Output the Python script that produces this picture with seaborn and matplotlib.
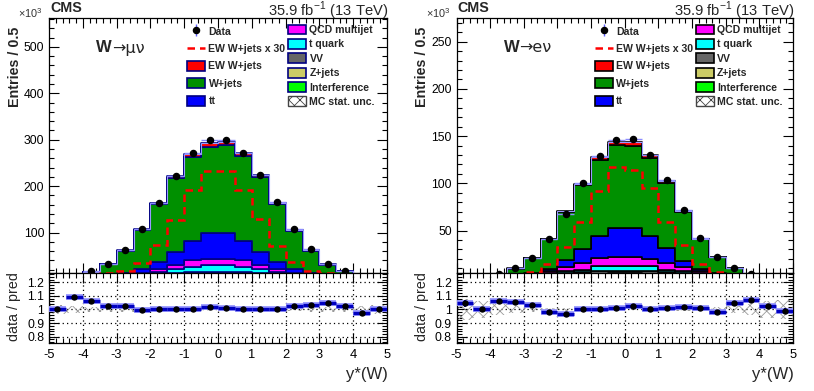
import numpy as np
import pandas as pd
import matplotlib.pyplot as plt
import seaborn as sns
from matplotlib.patches import Patch
from matplotlib.lines import Line2D
from matplotlib.ticker import MultipleLocator, FixedLocator

sns.set_style("ticks")
plt.rcParams['font.family'] = ['Liberation Sans', 'DejaVu Sans']
plt.rcParams['mathtext.fontset'] = 'custom'
plt.rcParams['mathtext.rm'] = 'Liberation Sans'
plt.rcParams['mathtext.bf'] = 'Liberation Sans:bold'
plt.rcParams['hatch.linewidth'] = 0.6

# bins of y*(W), width 0.5
edges = np.arange(-5, 5.01, 0.5)
centers = (edges[:-1] + edges[1:]) / 2

procs = ["EW W+jets", "W+jets", "tt", "QCD multijet", "t quark", "VV", "Z+jets", "Interference"]
colors = {"EW W+jets": "#ff0000", "W+jets": "#009000", "tt": "#0000ff",
          "QCD multijet": "#ff00ff", "t quark": "#00ffff", "VV": "#666666",
          "Z+jets": "#cccc66", "Interference": "#00ff00"}

# ---- W -> mu nu (entries x 10^3)
mu_data = [1.2, 4.5, 17, 33, 63, 107, 164.5, 222, 270.6, 298.6, 298.6, 271, 223, 165, 108, 64, 33, 17, 4.5, 1.2]
mu_ew = [0.03, 0.1, 0.2, 0.43, 0.57, 1.17, 2.47, 4.22, 6.37, 7.75, 7.75, 6.42, 4.29, 2.35, 1.23, 0.57, 0.43, 0.2, 0.1, 0.03]
mu_wjets = [0.85, 3.18, 13.5, 26.7, 48.6, 84.8, 124.2, 158.7, 181.9, 187.0, 188.9, 183.6, 160.7, 125.2, 82.7, 48.9, 25.9, 14.1, 3.65, 0.85]
mu_tt = [0.02, 0.05, 0.2, 0.6, 4, 8, 16.5, 27, 40.5, 54, 55, 40.5, 27, 16.5, 8, 4, 0.6, 0.2, 0.05, 0.02]
mu_qcd = [0.05, 0.1, 0.3, 0.7, 1.5, 3, 5, 10, 14.5, 14, 14, 14.5, 10, 5, 3, 1.5, 0.7, 0.3, 0.1, 0.05]
mu_tq = [0.05, 0.1, 0.3, 0.8, 1.8, 3.5, 6, 9, 12, 15, 15, 12, 9, 6, 3.5, 1.8, 0.8, 0.3, 0.1, 0.05]
mu_vv = [0.07, 0.2, 0.5, 1.0, 1.8, 2.5, 3.3, 4.2, 4.9, 5.2, 5.2, 4.9, 4.2, 3.3, 2.5, 1.8, 1.0, 0.5, 0.2, 0.07]
mu_zjets = [0.1, 0.3, 0.8, 1.5, 2.5, 3.5, 4.8, 6.0, 7.0, 7.5, 7.5, 7.0, 6.0, 4.8, 3.5, 2.5, 1.5, 0.8, 0.3, 0.1]
mu_interf = [0.03, 0.1, 0.2, 0.5, 0.7, 1.0, 1.4, 1.8, 2.1, 2.3, 2.3, 2.1, 1.8, 1.4, 1.0, 0.7, 0.5, 0.2, 0.1, 0.03]
mu_ratio = [1.00, 1.09, 1.06, 1.025, 1.025, 0.995, 1.005, 1.005, 1.005, 1.02, 1.01, 1.0, 1.0, 1.003, 1.025, 1.035, 1.05, 1.025, 0.975, 1.0]
mu_ratio_err = [0.006, 0.004, 0.003, 0.002, 0.002, 0.002, 0.002, 0.002, 0.002, 0.002, 0.002, 0.002, 0.002, 0.002, 0.002, 0.002, 0.002, 0.003, 0.004, 0.006]
mu_mc_unc = [0.03, 0.025, 0.02, 0.02, 0.015, 0.012, 0.01, 0.008, 0.007, 0.007, 0.007, 0.007, 0.008, 0.01, 0.012, 0.015, 0.02, 0.02, 0.025, 0.03]

# ---- W -> e nu (entries x 10^3)
e_data = [0.4, 1.2, 3.5, 10.4, 21.4, 40.5, 67.7, 100.2, 128.8, 145.4, 147.2, 130.2, 103, 71.9, 41.9, 21.7, 10.4, 3.6, 1.2, 0.4]
e_ew = [0.02, 0.03, 0.07, 0.13, 0.2, 0.49, 1.08, 1.97, 3.06, 3.9, 3.8, 3.15, 1.97, 1.15, 0.49, 0.2, 0.13, 0.07, 0.03, 0.02]
e_wjets = [0.19, 0.72, 2.08, 7.23, 15.6, 31.3, 50.5, 67.1, 80.4, 87.5, 87.0, 82.3, 68.6, 51.3, 31.6, 16.9, 7.3, 2.14, 0.69, 0.21]
e_tt = [0.03, 0.05, 0.1, 0.4, 1.0, 2.7, 7.5, 14.9, 23.7, 30.8, 30.8, 24.4, 15.9, 7.1, 2.7, 1.0, 0.4, 0.1, 0.05, 0.03]
e_qcd = [0.02, 0.05, 0.1, 0.3, 0.8, 2.0, 4.2, 7.0, 9.0, 9.1, 9.1, 8.3, 7.0, 4.2, 2.0, 0.8, 0.3, 0.1, 0.05, 0.02]
e_tq = [0.02, 0.05, 0.15, 0.3, 0.6, 1.2, 2.1, 2.9, 5.4, 5.9, 5.9, 5.4, 2.9, 2.1, 1.2, 0.6, 0.3, 0.15, 0.05, 0.02]
e_vv = [0.035, 0.1, 0.28, 0.5, 0.9, 1.2, 1.7, 2.0, 2.3, 2.45, 2.45, 2.3, 2.0, 1.7, 1.2, 0.9, 0.5, 0.28, 0.1, 0.035]
e_zjets = [0.05, 0.15, 0.4, 0.75, 1.25, 1.75, 2.4, 2.9, 3.3, 3.5, 3.5, 3.3, 2.9, 2.4, 1.75, 1.25, 0.75, 0.4, 0.15, 0.05]
e_interf = [0.015, 0.05, 0.12, 0.25, 0.35, 0.55, 0.7, 0.9, 1.0, 1.05, 1.05, 1.0, 0.9, 0.7, 0.55, 0.35, 0.25, 0.12, 0.05, 0.015]
e_ratio = [1.045, 1.0, 1.062, 1.055, 1.032, 0.983, 0.965, 1.005, 1.005, 1.008, 1.025, 1.0, 1.008, 1.017, 1.01, 0.985, 1.045, 1.07, 1.027, 0.99]
e_ratio_err = [0.025, 0.01, 0.006, 0.004, 0.003, 0.002, 0.002, 0.002, 0.002, 0.002, 0.002, 0.002, 0.002, 0.002, 0.002, 0.003, 0.004, 0.006, 0.012, 0.022]
e_mc_unc = [0.08, 0.06, 0.04, 0.025, 0.015, 0.01, 0.008, 0.007, 0.006, 0.006, 0.006, 0.006, 0.007, 0.008, 0.01, 0.015, 0.025, 0.04, 0.06, 0.07]

W, H = 814, 391
fig = plt.figure(figsize=(W / 100, H / 100), dpi=100)


def px(x, y):
    return x / W, 1 - y / H


def box(x0, y0, x1, y1):
    return [x0 / W, 1 - y1 / H, (x1 - x0) / W, (y1 - y0) / H]


def draw_channel(x0, x1, comps, data, ratio, ratio_err, mc_unc, ew, ylim, ymaj, ymin_step, chan, edge):
    ax = fig.add_axes(box(x0, 18, x1, 273))
    axr = fig.add_axes(box(x0, 273, x1, 343), sharex=ax)

    rows = []
    for name, vals in zip(procs, comps):
        rows.append(pd.DataFrame({"y": centers, "w": vals, "proc": name}))
    df = pd.concat(rows, ignore_index=True)
    sns.histplot(data=df, x="y", weights="w", hue="proc", hue_order=procs, palette=colors,
                 multiple="stack", bins=list(edges), element="step", alpha=1, edgecolor=edge,
                 linewidth=1.2, legend=False, ax=ax)
    total = np.sum(comps, axis=0)
    ax.stairs(total, edges, color="#9a9aff", lw=0.8, zorder=3)
    ax.stairs(np.array(ew) * 30, edges, color="#ff0000", lw=1.8, ls=(0, (3, 2)), zorder=4)
    ax.errorbar(centers, data, xerr=0.25, fmt="o", color="black", ms=4.4,
                ecolor="#8c8cff", elinewidth=1, capsize=0, zorder=5)

    ax.set_xlim(-5, 5)
    ax.set_ylim(*ylim)
    ax.set_xlabel("")
    ax.set_ylabel("")
    ax.yaxis.set_major_locator(MultipleLocator(ymaj))
    ax.yaxis.set_minor_locator(MultipleLocator(ymin_step))
    ax.xaxis.set_major_locator(MultipleLocator(1))
    ax.xaxis.set_minor_locator(MultipleLocator(0.2))
    ax.tick_params(axis="x", labelbottom=False)

    # ratio panel
    axr.bar(centers, 2 * np.array(mc_unc), bottom=1 - np.array(mc_unc), width=0.5,
            fill=False, hatch="xxx", edgecolor="#999999", lw=0, zorder=2)
    axr.hlines(ratio, edges[:-1], edges[1:], colors="#9a9aff", lw=4.2, zorder=3)
    axr.hlines(ratio, edges[:-1], edges[1:], colors="#0000c0", lw=2.4, zorder=4)
    axr.errorbar(centers, ratio, yerr=ratio_err, fmt="o", color="black", ms=3.6,
                 ecolor="#0000c0", elinewidth=1.5, capsize=0, zorder=5)
    axr.set_ylim(0.754, 1.268)
    axr.yaxis.set_major_locator(FixedLocator([0.8, 0.9, 1.0, 1.1, 1.2]))
    axr.yaxis.set_minor_locator(MultipleLocator(0.02))
    axr.set_yticklabels(["0.8", "0.9", "1", "1.1", "1.2"])
    axr.set_xticks(range(-5, 6))
    axr.set_xticklabels([str(v) for v in range(-5, 6)])
    axr.grid(True, which="major", color="black", ls=(0, (1, 2.5)), lw=0.9)

    for a in (ax, axr):
        a.tick_params(which="both", direction="in", top=True, right=True, width=0.8,
                      labelsize=8.8, pad=3.5, colors="black")
        a.tick_params(which="major", length=7)
        a.tick_params(which="minor", length=3.5)
        for s in a.spines.values():
            s.set_linewidth(0.9)
            s.set_color("black")
    axr.tick_params(axis="x", labelsize=9.3, pad=4)
    axr.set_xlim(-5, 5)

    # texts
    fig.text(*px(x0 + 1, 8), "CMS", fontsize=10.3, fontweight="bold", ha="left", va="center")
    fig.text(*px(x1 + 1, 10.5), "35.9 fb$^{-1}$ (13 TeV)", fontsize=10.6, ha="right", va="center")
    fig.text(*px(x0 - 31, 13), r"$\times$10$^{3}$", fontsize=7.8, ha="left", va="center", color="#333333")
    fig.text(*px(x0 - 34, 67), "Entries / 0.5", fontsize=10.3, fontweight="bold", rotation=90,
             ha="center", va="center")
    fig.text(*px(x0 - 35, 307), "data / pred", fontsize=10.3, rotation=90, ha="center", va="center")
    fig.text(*px(x1 + 1, 375), "y*(W)", fontsize=12, ha="right", va="center")
    fig.text(*px(x0 + 47, 47), "W", fontsize=12, fontweight="bold", ha="left", va="center")
    fig.text(*px(x0 + 63, 48), chan, fontsize=11.5, ha="left", va="center", family="DejaVu Sans")

    # legends
    h_left = [(Line2D([], [], marker="|", color="#6060ff", ms=9, ls="none"),
               Line2D([], [], marker="o", color="black", ms=4.4, ls="none")),
              Line2D([], [], color="#ff0000", lw=1.8, ls=(0, (3, 2))),
              Patch(facecolor=colors["EW W+jets"], edgecolor=edge, lw=1.2),
              Patch(facecolor=colors["W+jets"], edgecolor=edge, lw=1.2),
              Patch(facecolor=colors["tt"], edgecolor=edge, lw=1.2)]
    l_left = ["Data", "EW W+jets x 30", "EW W+jets", "W+jets", "tt"]
    h_right = [Patch(facecolor=colors[p], edgecolor=edge, lw=1.2)
               for p in ["QCD multijet", "t quark", "VV", "Z+jets", "Interference"]]
    h_right.append(Patch(facecolor="white", edgecolor="#444444", hatch="xxx", lw=1.0))
    l_right = ["QCD multijet", "t quark", "VV", "Z+jets", "Interference", "MC stat. unc."]
    prop = {"weight": "bold", "size": 7.55}
    fig.legend(h_left, l_left, loc="upper left", bbox_to_anchor=px(x0 + 138, 26),
               frameon=False, prop=prop, handlelength=1.75, handleheight=1.07,
               handletextpad=0.3, labelspacing=0.66, borderpad=0, borderaxespad=0)
    fig.legend(h_right, l_right, loc="upper left", bbox_to_anchor=px(x0 + 239, 24.5),
               frameon=False, prop=prop, handlelength=1.75, handleheight=1.07,
               handletextpad=0.3, labelspacing=0.37, borderpad=0, borderaxespad=0)
    return ax, axr


mu_comps = [mu_ew, mu_wjets, mu_tt, mu_qcd, mu_tq, mu_vv, mu_zjets, mu_interf]
e_comps = [e_ew, e_wjets, e_tt, e_qcd, e_tq, e_vv, e_zjets, e_interf]

draw_channel(49, 387, mu_comps, mu_data, mu_ratio, mu_ratio_err, mu_mc_unc, mu_ew,
             (12.8, 562), 100, 20, "\u2192\u03bc\u03bd", "#000080")
draw_channel(456.5, 793, e_comps, e_data, e_ratio, e_ratio_err, e_mc_unc, e_ew,
             (5, 275), 50, 10, "\u2192e\u03bd", "#000000")

fig.savefig("out.png", dpi=100)
